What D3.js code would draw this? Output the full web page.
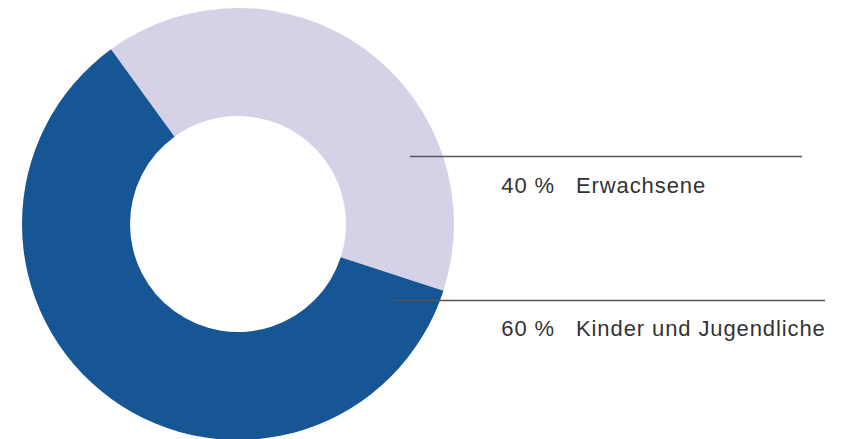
<!DOCTYPE html>
<html>
<head>
<meta charset="utf-8">
<script src="https://cdn.jsdelivr.net/npm/d3@7"></script>
<style>
  html, body { margin: 0; padding: 0; background: #fff; }
  svg { display: block; }
  text { font-family: "Liberation Sans", Arial, sans-serif; fill: #333; }
</style>
</head>
<body>
<svg id="chart" width="852" height="439"></svg>
<script>
// Data
const categories = ["Erwachsene", "Kinder und Jugendliche"];
const values = [40, 60];
const colors = ["#d5d2e7", "#165695"];

const svg = d3.select("#chart");
const cx = 238, cy = 224, outerR = 216, innerR = 108;

const pie = d3.pie().sort(null).value(d => d)
  .startAngle(-36 * Math.PI / 180)
  .endAngle(324 * Math.PI / 180);
const arc = d3.arc().innerRadius(innerR).outerRadius(outerR);

const g = svg.append("g").attr("transform", `translate(${cx},${cy})`);
g.selectAll("path").data(pie(values)).join("path")
  .attr("d", arc)
  .attr("fill", (d, i) => colors[i]);

// Leader lines and labels
const labelLayout = [
  { y: 156.5, x1: 410, x2: 802, ty: 192.5 },
  { y: 300.5, x1: 393, x2: 825, ty: 336 }
];
const fmt = d => d + " %";

const lg = svg.append("g");
labelLayout.forEach((L, i) => {
  lg.append("line")
    .attr("x1", L.x1).attr("x2", L.x2)
    .attr("y1", L.y).attr("y2", L.y)
    .attr("stroke", "#555").attr("stroke-width", 1.4);
  lg.append("text")
    .attr("x", 555).attr("y", L.ty)
    .attr("text-anchor", "end")
    .style("font-size", "22px")
    .style("letter-spacing", "0.9px")
    .text(fmt(values[i]));
  lg.append("text")
    .attr("x", 576).attr("y", L.ty)
    .style("font-size", "22px")
    .style("letter-spacing", "0.9px")
    .text(categories[i]);
});
</script>
</body>
</html>
